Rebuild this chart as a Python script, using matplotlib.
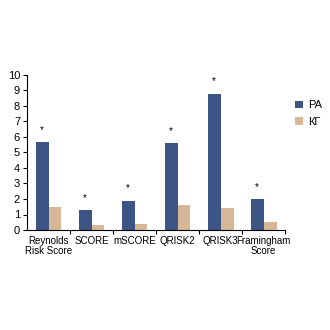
import matplotlib
matplotlib.use("Agg")
import matplotlib.pyplot as plt
import numpy as np

plt.rcParams['font.family'] = ['Liberation Sans', 'DejaVu Sans']

categories = ["Reynolds\nRisk Score", "SCORE", "mSCORE", "QRISK2", "QRISK3", "Framingham\nScore"]
pa = [5.7, 1.3, 1.9, 5.6, 8.8, 2.0]
kg = [1.5, 0.3, 0.4, 1.6, 1.4, 0.5]
labels = ["РА", "КГ"]

fig = plt.figure(figsize=(3.3, 3.3), dpi=100)
ax = fig.add_axes([0.082, 0.303, 0.782, 0.470])

x = np.arange(len(categories))
w = 0.3
ax.bar(x - w / 2, pa, w, color="#3d5585", label=labels[0])
ax.bar(x + w / 2, kg, w, color="#d8b797", label=labels[1])

for xi, v in zip(x, pa):
    ax.text(xi - w / 2, v + 0.45, "*", ha="center", va="bottom", fontsize=7)

ax.set_xlim(-0.5, len(categories) - 0.5)
ax.set_ylim(0, 10)
ax.set_yticks(range(0, 11))
ax.set_xticks(x)
ax.set_xticklabels(categories, fontsize=7, linespacing=1.0)
ax.set_xticks(np.arange(0.5, len(categories), 1), minor=True)
ax.tick_params(axis="x", which="major", length=0, pad=4)
ax.tick_params(axis="x", which="minor", length=3, width=0.8)
ax.tick_params(axis="y", labelsize=8, length=3, width=0.8, pad=2)
for s in ["top", "right"]:
    ax.spines[s].set_visible(False)

ax.legend(loc="upper left", bbox_to_anchor=(1.0, 0.9), frameon=False, fontsize=8,
          handlelength=0.7, handleheight=0.7, handletextpad=0.5, labelspacing=0.6)

fig.savefig("out.png", dpi=100)
